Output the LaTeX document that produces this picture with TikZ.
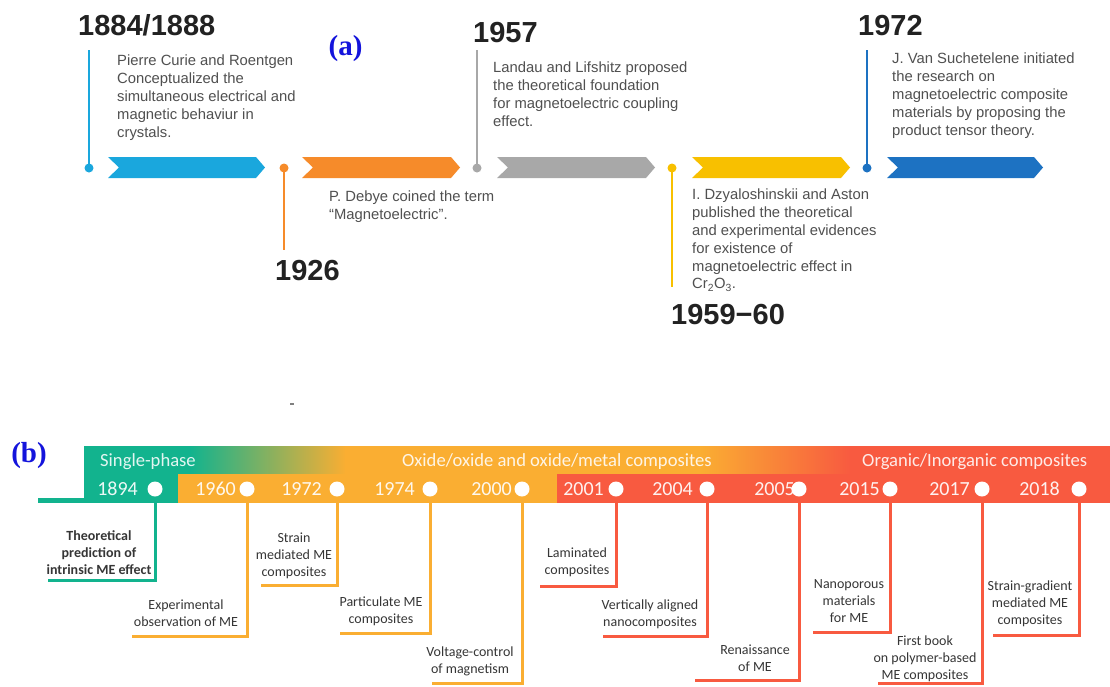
\documentclass[tikz,border=0pt]{standalone}
\usepackage{fontspec}
\setmainfont{Liberation Sans}
\newfontfamily\calfont{Carlito}
\newfontfamily\tmsfont{Liberation Serif}
\definecolor{cA}{HTML}{1AA7DD}
\definecolor{cB}{HTML}{F68B2A}
\definecolor{cC}{HTML}{A8A8A8}
\definecolor{cD}{HTML}{F8C000}
\definecolor{cE}{HTML}{1D72C2}
\definecolor{gG}{HTML}{12B38E}
\definecolor{gO}{HTML}{FAAE32}
\definecolor{gR}{HTML}{F85A40}
\definecolor{txtA}{HTML}{505050}
\definecolor{yrcol}{HTML}{222222}
\definecolor{txtB}{HTML}{363636}
\definecolor{lblcol}{RGB}{20,20,220}
\newcommand\chev[3]{\fill[#3] (#1,157) -- ({#2-9},157) -- (#2,167.5) -- ({#2-9},178) -- (#1,178) -- ({#1+11},167.5) -- cycle;}
\tikzset{
  yearA/.style={font=\bfseries\fontsize{29}{29}\selectfont, text=yrcol, inner sep=0, anchor=base west},
  descA/.style={font=\fontsize{14.8}{17.8}\selectfont, text=txtA, inner sep=0, anchor=north west, align=left},
  dotA/.style={circle, inner sep=0, minimum size=9pt, fill=#1},
  stemA/.style={line width=2.6pt, draw=#1},
  hdr/.style={font=\calfont\fontsize{18.6}{18.6}\selectfont, text=white, text opacity=0.88, inner sep=0, anchor=base west},
  yrB/.style={font=\calfont\fontsize{20}{20}\selectfont, text=white, text opacity=0.92, inner sep=0, anchor=base east},
  circB/.style={circle, fill=white, inner sep=0, minimum size=15pt},
  stemB/.style={line width=3pt, draw=#1},
  txtBox/.style={font=\calfont\fontsize{14}{17}\selectfont, text=txtB, inner sep=0, anchor=north, align=center},
  lbl/.style={font=\tmsfont\bfseries\fontsize{29}{29}\selectfont, text=lblcol, inner sep=0}
}
\begin{document}
\begin{tikzpicture}[x=1pt,y=-1pt]
\useasboundingbox[fill=white] (0,0) rectangle (1110,686);
% ---------------- (a) ----------------
\chev{108}{265}{cA}
\chev{302}{460}{cB}
\chev{497}{655}{cC}
\chev{692}{850}{cD}
\chev{887}{1043}{cE}
\coordinate (pa1) at (89,168);  \coordinate (ta1) at (89,50);
\coordinate (pa2) at (284,168); \coordinate (ta2) at (284,250);
\coordinate (pa3) at (477,168); \coordinate (ta3) at (477,50);
\coordinate (pa4) at (672,168); \coordinate (ta4) at (672,287);
\coordinate (pa5) at (867,168); \coordinate (ta5) at (867,50);
\draw[stemA=cA] (pa1) -- (ta1);
\draw[stemA=cB] (pa2) -- (ta2);
\draw[stemA=cC] (pa3) -- (ta3);
\draw[stemA=cD] (pa4) -- (ta4);
\draw[stemA=cE] (pa5) -- (ta5);
\node[dotA=cA] (da1) at (pa1) {};
\node[dotA=cB] (da2) at (pa2) {};
\node[dotA=cC] (da3) at (pa3) {};
\node[dotA=cD] (da4) at (pa4) {};
\node[dotA=cE] (da5) at (pa5) {};
\node[yearA] (ya1) at (78,35) {1884/1888};
\node[yearA] (ya2) at (275,280) {1926};
\node[yearA] (ya3) at (473,42) {1957};
\node[yearA] (ya4) at (671,324) {1959−60};
\node[yearA] (ya5) at (858,35) {1972};
\node[descA] (ta1t) at (117,55) {Pierre Curie and Roentgen\\Conceptualized the\\simultaneous electrical and\\magnetic behaviur in\\crystals.};
\node[descA] (ta2t) at (329,191) {P. Debye coined the term\\“Magnetoelectric”.};
\node[descA] (ta3t) at (493,62) {Landau and Lifshitz proposed\\the theoretical foundation\\for magnetoelectric coupling\\effect.};
\node[descA] (ta4t) at (692,189) {I. Dzyaloshinskii and Aston\\published the theoretical\\and experimental evidences\\for existence of\\magnetoelectric effect in\\Cr\textsubscript{2}O\textsubscript{3}.};
\node[descA] (ta5t) at (892,53) {J. Van Suchetelene initiated\\the research on\\magnetoelectric composite\\materials by proposing the\\product tensor theory.};
\node[lbl] (la) at (345.5,49) {(a)};
\coordinate (m1) at (290,404); \coordinate (m2) at (294,404);
\draw[gray, line width=1.5pt] (m1) -- (m2);
% ---------------- (b) ----------------
\fill[gG] (84,446) rectangle (191,475);
\shade[left color=gG, right color=gO] (190,446) rectangle (346,475);
\fill[gO] (345,446) rectangle (701,475);
\shade[left color=gO, right color=gR] (700,446) rectangle (851,475);
\fill[gR] (850,446) rectangle (1110,475);
\fill[gG] (84,474) rectangle (178.5,503);
\fill[gG] (38,498) rectangle (85,503);
\fill[gO] (178,474) rectangle (557.5,503);
\fill[gR] (557,474) rectangle (1110,503);
\node[hdr] (h1) at (100,466) {Single-phase};
\node[hdr] (h2) at (402,466) {Oxide/oxide and oxide/metal composites};
\node[hdr] (h3) at (862,466) {Organic/Inorganic composites};
\node[lbl] (lb) at (29,456) {(b)};
% stems
\foreach \i/\x/\xl/\yb/\c in {1/155/48/580/gG, 2/247/132/636/gO, 3/337/261/585/gO, 4/430/340/633/gO, 5/522/432/683/gO, 6/616/540/586/gR, 7/707/603/636/gR, 8/799/695/680/gR, 9/890/813/632/gR, 10/982/878/683/gR, 11/1079/993/635/gR}{
  \coordinate (p\i) at (\x,489);
  \coordinate (e\i) at (\xl,\yb);
  \draw[stemB=\c] (p\i) |- (e\i);
  \node[circB] (c\i) at (p\i) {};
}
\foreach \i/\x/\y in {1/138/1894, 2/236/1960, 3/322/1972, 4/415/1974, 5/512/2000, 6/604/2001, 7/693/2004, 8/795/2005, 9/880/2015, 10/970/2017, 11/1060/2018}{
  \node[yrB] (yb\i) at (\x,495.5) {\y};
}
\node[txtBox, font=\calfont\bfseries\fontsize{14}{17}\selectfont] (b1) at (99,530) {Theoretical\\prediction of\\intrinsic ME effect};
\node[txtBox] (b2) at (186,600) {Experimental\\observation of ME};
\node[txtBox] (b3) at (294,533) {Strain\\mediated ME\\composites};
\node[txtBox] (b4) at (381,597) {Particulate ME\\composites};
\node[txtBox] (b5) at (470,647) {Voltage-control\\of magnetism};
\node[txtBox] (b6) at (577,548) {Laminated\\composites};
\node[txtBox] (b7) at (650,600) {Vertically aligned\\nanocomposites};
\node[txtBox] (b8) at (755,645) {Renaissance\\of ME};
\node[txtBox] (b9) at (849,579) {Nanoporous\\materials\\for ME};
\node[txtBox] (b10) at (925,636) {First book\\on polymer-based\\ME composites};
\node[txtBox] (b11) at (1030,581) {Strain-gradient\\mediated ME\\composites};
\end{tikzpicture}
\end{document}
